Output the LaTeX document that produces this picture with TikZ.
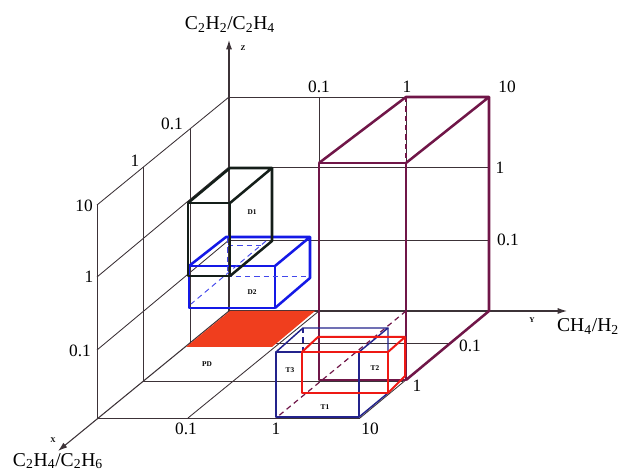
\documentclass[tikz,border=0pt]{standalone}
\usepackage{fontspec}
\setmainfont{Liberation Serif}
\usetikzlibrary{arrows.meta}
\definecolor{gridc}{RGB}{60,50,55}
\definecolor{purp}{RGB}{112,22,72}
\definecolor{dblue}{RGB}{20,25,230}
\definecolor{navy}{RGB}{35,35,140}
\definecolor{tred}{RGB}{238,25,20}
\definecolor{pdred}{RGB}{240,62,30}
\definecolor{dkbox}{RGB}{20,30,25}
\tikzset{
  gridln/.style={draw=gridc, line width=0.65pt},
  axisln/.style={draw=gridc, line width=0.8pt, -{Latex[length=7pt,width=4.5pt]}},
  purpbox/.style={draw=purp, line width=1.9pt, line join=round},
  dtwo/.style={draw=dblue, line width=1.9pt, line join=round},
  done/.style={draw=dkbox, line width=1.9pt, line join=round},
  tbox/.style={draw=navy, line width=1.1pt, line join=round},
  ttwo/.style={draw=tred, line width=1.5pt, line join=round},
  hid/.style={dash pattern=on 4pt off 3pt},
  num/.style={font=\fontsize{13}{15}\selectfont, inner sep=0pt, anchor=base},
  axlab/.style={font=\fontsize{14.7}{17}\selectfont, inner sep=0pt, anchor=base},
  tiny/.style={font=\fontsize{5.5}{6}\selectfont\bfseries, inner sep=0pt},
  axletter/.style={font=\fontsize{5.5}{6}\selectfont\bfseries, inner sep=0pt},
}
\begin{document}
\begin{tikzpicture}[x=0.75pt,y=-0.75pt]
\useasboundingbox (0,0) rectangle (624,473);
% back wall grid
\draw[gridln] (229,97)--(489,97) (229,167)--(489,167) (229,240)--(489,240);
\draw[gridln] (319,97)--(319,311) (406,97)--(406,311) (489,97)--(489,311);
% left wall grid
\draw[gridln] (229,97)--(97,205) (229,167)--(97,277) (229,240)--(97,350);
\draw[gridln] (190,129)--(190,343) (143,167)--(143,381) (97,205)--(97,418);
% floor grid
\draw[gridln] (190,343)--(450,343) (143,381)--(403,381) (97,418)--(360,418);
\draw[gridln] (319,311)--(188,418) (489,311)--(360,418);
% axes
\coordinate (O) at (229,311);
\coordinate (ztip) at (229,40);
\coordinate (ytip) at (567,311);
\coordinate (xtip) at (58,451);
\draw[axisln] (O) -- (ztip);
\draw[axisln] (O) -- (ytip);
\draw[axisln] (O) -- (xtip);
% PD region
\fill[pdred] (230,311) -- (315,311) -- (272,347) -- (186,347) -- cycle;
% purple box
\draw[purpbox] (319,163) -- (406,163) -- (406,380) -- (319,380) -- cycle;
\draw[purpbox] (319,163) -- (406,97) -- (489,97) -- (406,163);
\draw[purpbox] (489,97) -- (489,311) -- (406,380);
\draw[purpbox, line width=1pt, hid] (406,97) -- (406,163);
\draw[draw=purp, line width=0.9pt, hid] (406,311) -- (276,418);
% D2 box
\draw[dtwo] (189,266) -- (275,266) -- (275,308) -- (189,308) -- cycle;
\draw[dtwo] (189,266) -- (226,237) -- (310,237) -- (275,266);
\draw[dtwo] (310,237) -- (310,278) -- (275,308);
\draw[draw=dblue!80!white, line width=0.7pt, hid] (227,238) -- (227,276) -- (310,276);
\draw[draw=dblue!80!white, line width=0.7pt, hid] (266,241) -- (191,304);
\draw[draw=dblue!80!white, line width=0.7pt, hid] (228,245) -- (266,245);
% D1 box
\draw[done] (188,203) -- (230,203) -- (230,276) -- (188,276) -- cycle;
\draw[done] (188,203) -- (230,168) -- (272,168) -- (230,203);
\draw[done] (272,168) -- (272,241) -- (230,276);
% T1/T3 box
\draw[tbox] (276,352) -- (359,352) -- (359,417) -- (276,417) -- cycle;
\draw[tbox] (276,352) -- (303,328) -- (388,328) -- (359,352);
\draw[tbox] (388,328) -- (388,393) -- (359,417);
\draw[tbox, line width=0.8pt, hid] (303,328) -- (303,352);
% T2 box
\draw[ttwo] (302,352) -- (388,352) -- (388,393) -- (302,393) -- cycle;
\draw[ttwo] (302,352) -- (318,337) -- (405,337) -- (388,352);
\draw[ttwo] (405,337) -- (405,376) -- (388,393);
% region labels
\node[tiny] (lD1) at (252,212) {D1};
\node[tiny] (lD2) at (252,292) {D2};
\node[tiny] (lPD) at (207,364) {PD};
\node[tiny] (lT3) at (290,370) {T3};
\node[tiny] (lT1) at (325,407) {T1};
\node[tiny] (lT2) at (375,368) {T2};
% axis letters
\node[axletter] (lz) at (243,48) {Z};
\node[axletter] (lx) at (53,440) {X};
\node[axletter] (ly) at (532,320) {Y};
% axis titles
\node[axlab] (tz) at (230,30) {C\textsubscript{2}H\textsubscript{2}/C\textsubscript{2}H\textsubscript{4}};
\node[axlab] (tx) at (58,466) {C\textsubscript{2}H\textsubscript{4}/C\textsubscript{2}H\textsubscript{6}};
\node[axlab] (ty) at (588,332) {CH\textsubscript{4}/H\textsubscript{2}};
% numbers
\node[num] (n1) at (319,93) {0.1};
\node[num] (n2) at (407,93) {1};
\node[num] (n3) at (507,93) {10};
\node[num] (n4) at (500,174) {1};
\node[num] (n5) at (508,246) {0.1};
\node[num] (n6) at (470,352) {0.1};
\node[num] (n7) at (417,392) {1};
\node[num] (n8) at (370,434) {10};
\node[num] (n9) at (186,435) {0.1};
\node[num] (n10) at (276,435) {1};
\node[num] (n11) at (84,212) {10};
\node[num] (n12) at (89,283) {1};
\node[num] (n13) at (80,357) {0.1};
\node[num] (n14) at (172,130) {0.1};
\node[num] (n15) at (135,167) {1};
\end{tikzpicture}
\end{document}
